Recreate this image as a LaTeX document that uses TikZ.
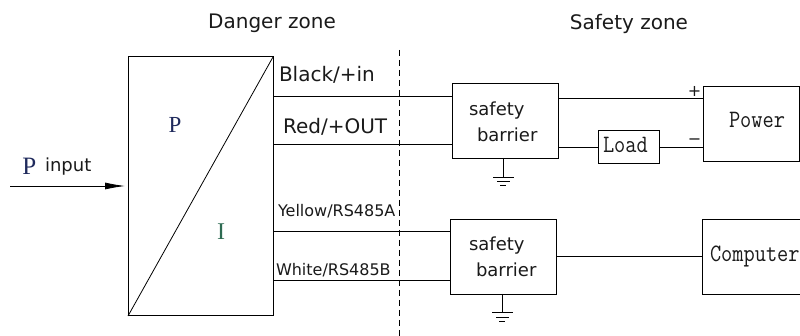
\documentclass[tikz,border=0pt]{standalone}
\usepackage{fontspec}
\setmainfont{DejaVu Sans}
\newfontfamily\serifP{Liberation Serif}
\newfontfamily\monoF[FakeStretch=0.87]{Latin Modern Mono}
\usetikzlibrary{arrows.meta}
\definecolor{ink}{HTML}{1A1A1A}
\definecolor{navy}{HTML}{1F2A5C}
\definecolor{teal2}{HTML}{2E6B52}
\begin{document}
\begin{tikzpicture}[x=1pt,y=-1pt,line width=0.8pt,
  blk/.style={draw,inner sep=0pt,outer sep=0pt},
  lbl/.style={inner sep=0pt,outer sep=0pt,text=ink,font=\fontsize{20}{24}\selectfont},
  sml/.style={inner sep=0pt,outer sep=0pt,text=ink,font=\fontsize{16}{19}\selectfont},
  bar/.style={inner sep=0pt,outer sep=0pt,text=ink,font=\fontsize{18}{22}\selectfont},
  mono/.style={inner sep=0pt,outer sep=0pt,text=ink,font=\monoF\fontsize{25}{28}\selectfont},
  sgn/.style={inner sep=0pt,outer sep=0pt,text=ink,font=\fontsize{16}{19}\selectfont}]
\useasboundingbox (0,0) rectangle (800,336);
% main boxes
\node[blk,line width=1pt,minimum width=145pt,minimum height=259pt] (m) at (200.5,186.5) {};
\draw (m.south west) -- (m.north east);
\node[blk,minimum width=106pt,minimum height=75pt] (b1) at (505,120.5) {};
\node[blk,minimum width=106pt,minimum height=75pt] (b2) at (503,256.5) {};
\node[blk,minimum width=61pt,minimum height=33pt] (ld) at (628.5,146.5) {};
\node[blk,minimum width=96pt,minimum height=75pt] (pw) at (751,123.5) {};
\node[blk,minimum width=104pt,minimum height=75pt] (cp) at (754,256.5) {};
% dashed border
\coordinate (d1) at (399,50);
\coordinate (d2) at (399,336);
\draw[dash pattern=on 6pt off 4pt] (d1) -- (d2);
% wire levels
\coordinate (y1) at (0,96);
\coordinate (y2) at (0,144);
\coordinate (y3) at (0,231);
\coordinate (y4) at (0,280);
\coordinate (y5) at (0,98);
\coordinate (y6) at (0,147);
\coordinate (y7) at (0,256);
\draw (m.east |- y1) -- (b1.west |- y1);
\draw (m.east |- y2) -- (b1.west |- y2);
\draw (m.east |- y3) -- (b2.west |- y3);
\draw (m.east |- y4) -- (b2.west |- y4);
\draw (b1.east |- y5) -- (pw.west |- y5);
\draw (b1.east |- y6) -- (ld.west |- y6);
\draw (ld.east |- y6) -- (pw.west |- y6);
\draw (b2.east |- y7) -- (cp.west |- y7);
% grounds
\coordinate (g1) at (503,177);
\draw (b1.south -| g1) -- (g1);
\draw (g1) ++(-10,0) -- ++(21,0);
\draw (g1) ++(-6,4) -- ++(13,0);
\draw (g1) ++(-3,8) -- ++(6,0);
\coordinate (g2) at (502,312);
\draw (b2.south -| g2) -- (g2);
\draw (g2) ++(-10,0) -- ++(21,0);
\draw (g2) ++(-6,5) -- ++(13,0);
\draw (g2) ++(-3,9) -- ++(6,0);
% input arrow
\coordinate (ai) at (10,186);
\draw[-{Latex[length=20pt,width=7pt]},shorten >=3pt] (ai) -- (m.west |- ai);
% texts
\node[lbl,anchor=base] (dz) at (272,28.5) {Danger zone};
\node[lbl,anchor=base] (sz) at (629,30) {Safety zone};
\node[lbl,anchor=base west] (t1) at (279,82) {Black/+in};
\node[lbl,anchor=base west] (t2) at (283,134) {Red/+OUT};
\node[sml,anchor=base west] (t3) at (278,217) {Yellow/RS485A};
\node[sml,anchor=base west] (t4) at (276,276) {White/RS485B};
\node[bar,anchor=base west] (b1a) at (469,116) {safety};
\node[bar,anchor=base west] (b1b) at (477,142) {barrier};
\node[bar,anchor=base west] (b2a) at (469,251) {safety};
\node[bar,anchor=base west] (b2b) at (476,277) {barrier};
\node[mono,anchor=base west] (pwt) at (729,128) {Power};
\node[mono,anchor=base west] (ldt) at (603,153) {Load};
\node[mono,anchor=base west] (cpt) at (710,262) {Computer};
\node[sgn] (plus) at (694.5,91) {+};
\node[sgn] (minus) at (694.5,142) {−};
\node[inner sep=0pt,text=navy,font=\serifP\fontsize{23}{26}\selectfont,anchor=base] (pl) at (175,133) {P};
\node[inner sep=0pt,text=teal2,font=\serifP\fontsize{24}{27}\selectfont,anchor=base] (il) at (221,240) {I};
\node[inner sep=0pt,text=navy,font=\serifP\fontsize{25}{28}\selectfont,anchor=base west] (pin) at (22,175) {P};
\node[bar,anchor=base west] (inp) at (45,172) {input};
\end{tikzpicture}
\end{document}
